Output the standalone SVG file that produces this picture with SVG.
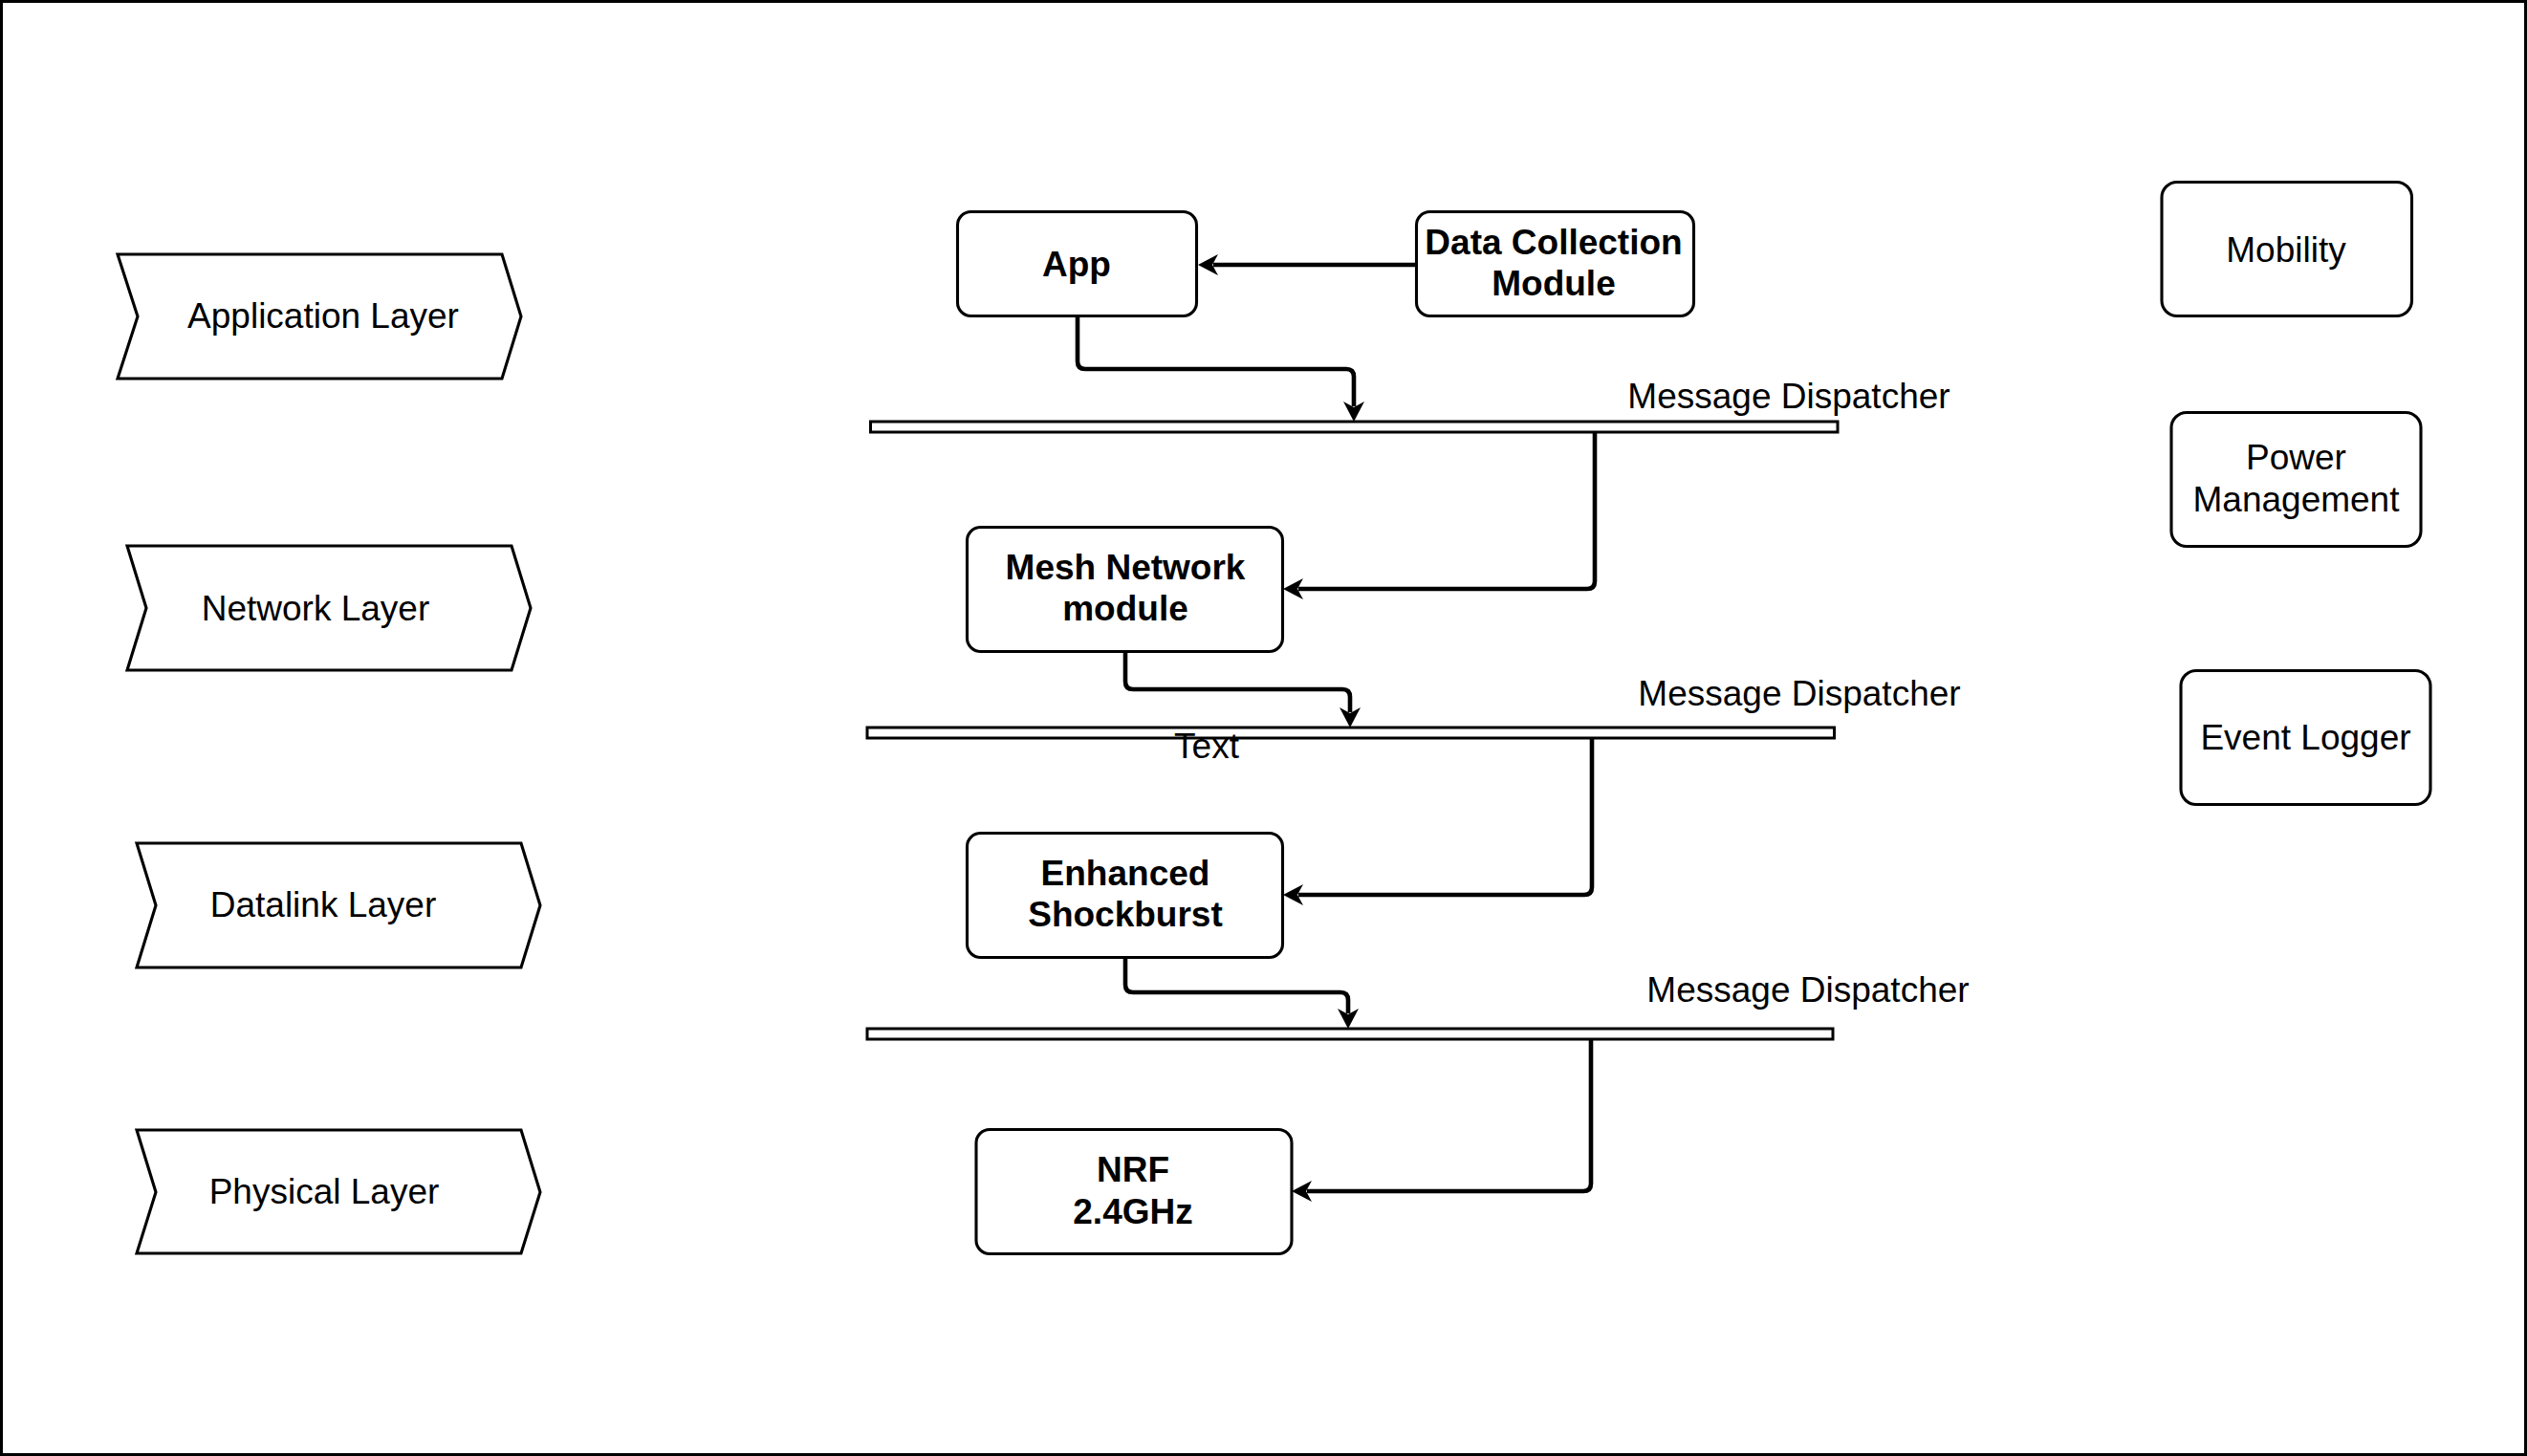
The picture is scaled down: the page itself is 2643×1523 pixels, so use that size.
<svg xmlns="http://www.w3.org/2000/svg" width="2643" height="1523" viewBox="0 0 2643 1523">
<style>
.frame{fill:#fff;stroke:#000;stroke-width:3}
.shape{fill:#fff;stroke:#000;stroke-width:3.1}
.bar{fill:#fff;stroke:#000;stroke-width:3}
.t{font-family:"Liberation Sans",Arial,Helvetica,sans-serif;font-size:37px;fill:#000;text-anchor:middle}
.b{font-weight:bold}
.conn{fill:none;stroke:#000;stroke-width:4.6;stroke-linejoin:round;marker-end:url(#arr)}
</style>
<defs>
<marker id="arr" viewBox="0 0 21 22" refX="5" refY="11" markerWidth="21" markerHeight="22" markerUnits="userSpaceOnUse" orient="auto">
<path d="M21,11 L0,0 L6,11 L0,22 Z" fill="#000"/>
</marker>
</defs>
<rect class="frame" x="1.5" y="1.5" width="2640" height="1520"/>

<g id="application-layer">
<polygon class="shape" points="123,266 525,266 545,331 525,396 123,396 144,331"/>
<text class="t" x="338" y="343">Application Layer</text>
</g>
<g id="network-layer">
<polygon class="shape" points="133,571 535,571 555,636 535,701 133,701 153,636"/>
<text class="t" x="330" y="649">Network Layer</text>
</g>
<g id="datalink-layer">
<polygon class="shape" points="143,882 545,882 565,947 545,1012 143,1012 163,947"/>
<text class="t" x="338" y="959">Datalink Layer</text>
</g>
<g id="physical-layer">
<polygon class="shape" points="143,1182 545,1182 565,1247 545,1311 143,1311 163,1247"/>
<text class="t" x="339" y="1259">Physical Layer</text>
</g>

<g id="app">
<rect class="shape" x="1001.5" y="221.5" width="250" height="109" rx="14"/>
<text class="t b" x="1126" y="289">App</text>
</g>
<g id="data-collection-module">
<rect class="shape" x="1481.5" y="221.5" width="290" height="109" rx="14"/>
<text class="t b" x="1625" y="266">Data Collection</text>
<text class="t b" x="1625" y="309">Module</text>
</g>
<g id="mesh-network-module">
<rect class="shape" x="1011.5" y="551.5" width="330" height="130" rx="14"/>
<text class="t b" x="1177" y="606">Mesh Network</text>
<text class="t b" x="1177" y="649">module</text>
</g>
<g id="enhanced-shockburst">
<rect class="shape" x="1011.5" y="871.5" width="330" height="130" rx="14"/>
<text class="t b" x="1177" y="926">Enhanced</text>
<text class="t b" x="1177" y="969">Shockburst</text>
</g>
<g id="nrf">
<rect class="shape" x="1021" y="1181.5" width="330" height="130" rx="14"/>
<text class="t b" x="1185" y="1236">NRF</text>
<text class="t b" x="1185" y="1280">2.4GHz</text>
</g>

<g id="dispatcher-1">
<rect class="bar" x="910.5" y="441" width="1011.5" height="11"/>
<text class="t" x="1871" y="427">Message Dispatcher</text>
</g>
<g id="dispatcher-2">
<rect class="bar" x="907" y="761" width="1011.5" height="11"/>
<text class="t" x="1882" y="738">Message Dispatcher</text>
<text class="t" x="1262" y="793">Text</text>
</g>
<g id="dispatcher-3">
<rect class="bar" x="907" y="1076" width="1010" height="11"/>
<text class="t" x="1891" y="1048">Message Dispatcher</text>
</g>

<g id="mobility">
<rect class="shape" x="2261" y="190.5" width="261.5" height="140" rx="16"/>
<text class="t" x="2391" y="274">Mobility</text>
</g>
<g id="power-management">
<rect class="shape" x="2271" y="431.5" width="261" height="140" rx="16"/>
<text class="t" x="2401.5" y="491">Power</text>
<text class="t" x="2401.5" y="535">Management</text>
</g>
<g id="event-logger">
<rect class="shape" x="2281" y="701.5" width="261" height="140" rx="16"/>
<text class="t" x="2411.5" y="784">Event Logger</text>
</g>

<g id="connectors">
<path class="conn" d="M1481,277 H1269"/>
<path class="conn" d="M1127,331 V378 Q1127,386 1135,386 H1408 Q1416,386 1416,394 V425"/>
<path class="conn" d="M1668,452 V608 Q1668,616 1660,616 H1358"/>
<path class="conn" d="M1177,682 V713 Q1177,721 1185,721 H1404 Q1412,721 1412,729 V745"/>
<path class="conn" d="M1665,772 V928 Q1665,936 1657,936 H1358"/>
<path class="conn" d="M1177,1002 V1030 Q1177,1038 1185,1038 H1402 Q1410,1038 1410,1046 V1060"/>
<path class="conn" d="M1664,1087 V1238 Q1664,1246 1656,1246 H1367"/>
</g>
</svg>
